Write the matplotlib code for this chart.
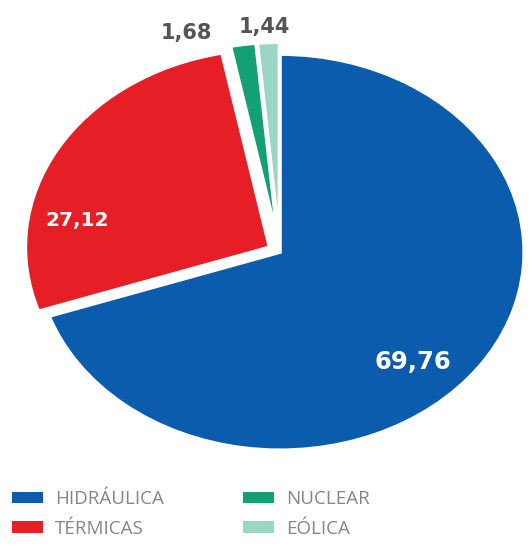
import matplotlib
matplotlib.use("Agg")
import matplotlib.pyplot as plt
from matplotlib.patches import Patch

categories = ["HIDRÁULICA", "TÉRMICAS", "NUCLEAR", "EÓLICA"]
values = [69.76, 27.12, 1.68, 1.44]
value_labels = ["69,76", "27,12", "1,68", "1,44"]
colors = ["#0B5CAD", "#E61F26", "#12A074", "#9BD6C4"]

plt.rcParams['font.family'] = ['Open Sans', 'DejaVu Sans']

fig = plt.figure(figsize=(5.30, 5.47), dpi=100)
ax = fig.add_axes([0.0679, 0.177, 0.921, 0.724])

wedges, _ = ax.pie(values, colors=colors, startangle=90, counterclock=False,
                   explode=[0, 0.05, 0.06, 0.06],
                   wedgeprops=dict(edgecolor="white", linewidth=2.5))
ax.set_aspect('auto')
ax.set_xlim(-1, 1)
ax.set_ylim(-1, 1)
ax.axis('off')

label_pos = [(0.545, -0.556), (-0.83, 0.16), (-0.385, 1.106), (-0.065, 1.136)]
label_colors = ["white", "white", "#555555", "#555555"]
label_sizes = [17.5, 14.5, 15, 15]
for (x, y), txt, c, s in zip(label_pos, value_labels, label_colors, label_sizes):
    ax.text(x, y, txt, ha='center', va='center', fontsize=s, fontweight='bold',
            color=c, clip_on=False, family='DejaVu Sans')

handles = [Patch(facecolor=col, edgecolor='none') for col in colors]
fig.legend(handles, categories, ncol=2, loc='upper left',
           bbox_to_anchor=(12 / 530, 0.104), frameon=False,
           borderpad=0, borderaxespad=0,
           handlelength=1.65, handleheight=0.6, handletextpad=0.65,
           columnspacing=4.2, labelspacing=0.62,
           prop={'size': 13.5}, labelcolor="#858585")

fig.savefig("out.png", dpi=100)
